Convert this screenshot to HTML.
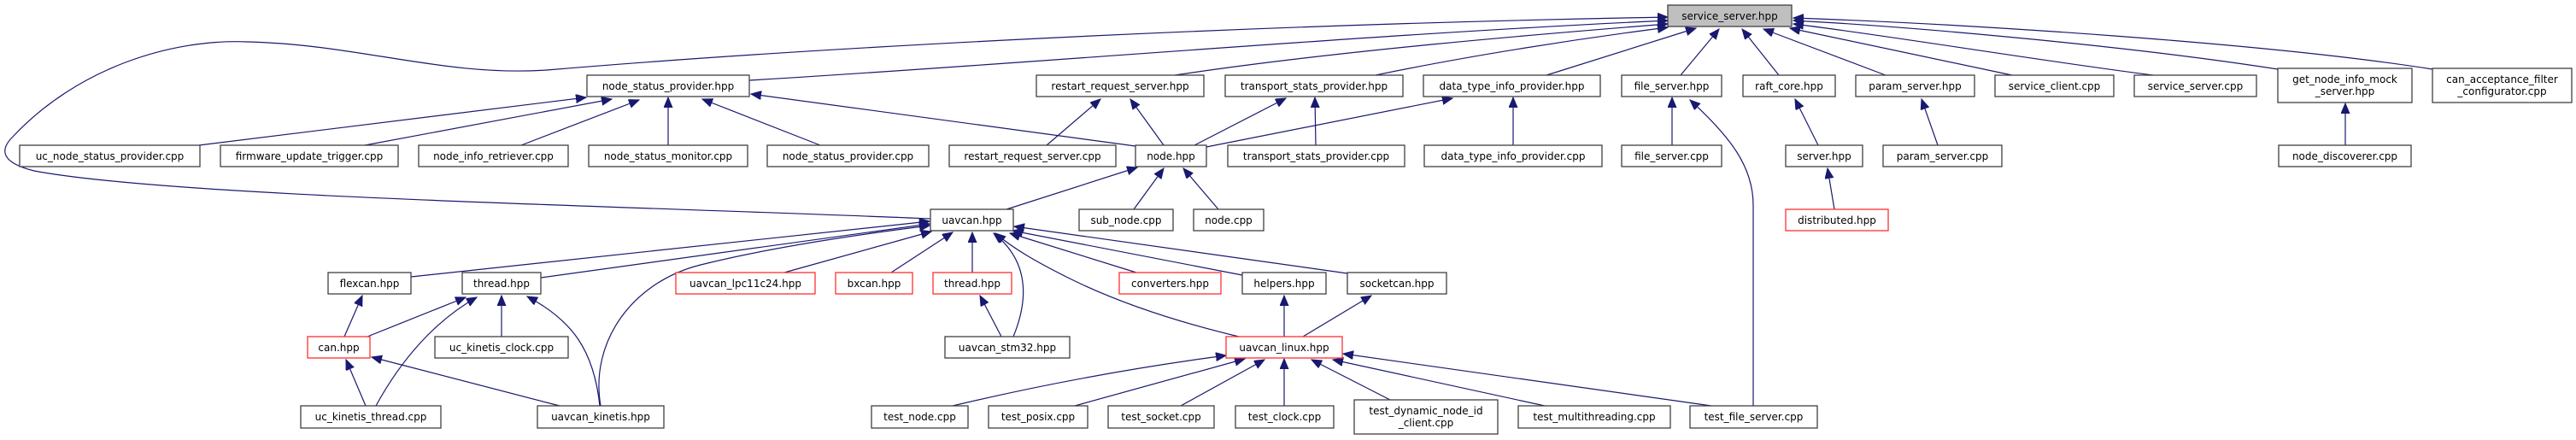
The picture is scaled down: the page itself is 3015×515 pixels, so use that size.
<!DOCTYPE html>
<html><head><meta charset="utf-8"><style>
html,body{margin:0;padding:0;background:#fff;}
svg{display:block;}
text{font-family:"DejaVu Sans","Liberation Sans",sans-serif;font-size:12px;fill:#000;text-anchor:middle;}
.n{fill:#fff;stroke:#404040;stroke-width:1.3;}
.r{fill:#fff;stroke:#ff3030;stroke-width:1.3;}
.e{fill:none;stroke:#191970;stroke-width:1.2;marker-end:url(#a);}
.p{fill:none;stroke:#191970;stroke-width:1.2;}
</style></head><body>
<svg width="3015" height="515" viewBox="0 0 3015 515" xmlns="http://www.w3.org/2000/svg">
<defs><marker id="a" markerUnits="userSpaceOnUse" markerWidth="14" markerHeight="12" refX="12" refY="5" orient="auto"><path d="M0,0 L12,5 L0,10 z" fill="#191970" stroke="#191970"/></marker></defs>

<!-- edges to service_server.hpp -->
<path class="e" d="M1089,256 C700,240 200,230 40,200 C0,190 0,175 15,160 C90,80 200,45 290,49 C420,52 520,90 640,82 C900,60 1400,30 1952,20"/>
<path class="e" d="M877,94 C1200,75 1600,40 1952,24"/>
<path class="e" d="M1375,88 C1560,60 1800,40 1952,28"/>
<path class="e" d="M1610,88 C1720,65 1850,45 1952,32"/>
<path class="e" d="M1810,88 L1985,33"/>
<path class="e" d="M1967,88 L2012,34"/>
<path class="e" d="M2082,88 L2039,34"/>
<path class="e" d="M2207,88 L2064,34"/>
<path class="e" d="M2355,88 L2095,33"/>
<path class="e" d="M2520,88 C2380,70 2200,40 2099,28"/>
<path class="e" d="M2666,81 C2500,55 2250,32 2099,24"/>
<path class="e" d="M2847,81 C2650,50 2300,28 2099,21"/>

<!-- node_status_provider.hpp -->
<path class="e" d="M233,170 L686,114"/>
<path class="e" d="M427,170 L716,116"/>
<path class="e" d="M610,170 L748,117"/>
<path class="e" d="M782,170 L782,114"/>
<path class="e" d="M960,170 L822,116"/>
<path class="e" d="M1329,171 L879,110"/>

<!-- node.hpp targets -->
<path class="e" d="M1225,170 L1288,116"/>
<path class="e" d="M1362,170 L1323,116"/>
<path class="e" d="M1398,170 L1505,115"/>
<path class="e" d="M1412,172 L1700,115"/>
<path class="e" d="M1540,170 L1539,114"/>
<path class="e" d="M1771,170 L1771,114"/>
<path class="e" d="M1957,170 L1957,114"/>
<path class="e" d="M2052,475 L2052,240 C2052,195 2025,160 1978,117"/>
<path class="e" d="M2128,170 L2101,116"/>
<path class="e" d="M2268,170 L2249,116"/>
<path class="e" d="M2147,245 L2139,197"/>
<path class="e" d="M2745,170 L2745,121"/>

<!-- node.hpp children -->
<path class="e" d="M1178,245 L1331,196"/>
<path class="e" d="M1327,245 L1362,197"/>
<path class="e" d="M1426,245 L1385,197"/>

<!-- uavcan.hpp children -->
<path class="e" d="M481,324 L1088,259"/>
<path class="e" d="M633,325 L1088,262"/>
<path class="e" d="M703,475 C690,400 740,330 820,310 C900,290 1000,275 1088,264"/>
<path class="e" d="M918,319 L1090,271"/>
<path class="e" d="M1043,319 L1115,272"/>
<path class="e" d="M1138,319 L1138,272"/>
<path class="e" d="M1186,394 C1200,360 1210,310 1163,273"/>
<path class="e" d="M1450,394 C1350,370 1290,345 1250,325 C1210,305 1185,290 1165,273"/>
<path class="e" d="M1330,319 L1182,273"/>
<path class="e" d="M1454,322 L1185,270"/>
<path class="e" d="M1577,320 L1187,265"/>

<!-- kinetis cluster -->
<path class="e" d="M403,394 L424,346"/>
<path class="e" d="M430,394 L545,348"/>
<path class="e" d="M440,475 C470,420 510,375 558,348"/>
<path class="e" d="M587,394 L587,346"/>
<path class="e" d="M702,475 C695,410 670,375 617,347"/>
<path class="e" d="M655,475 L435,418"/>
<path class="e" d="M428,475 L405,421"/>
<path class="e" d="M1172,394 L1147,346"/>

<!-- linux cluster -->
<path class="e" d="M1503,394 L1503,346"/>
<path class="e" d="M1525,394 L1605,346"/>
<path class="e" d="M1115,475 C1220,450 1330,430 1435,416"/>
<path class="e" d="M1258,475 L1457,420"/>
<path class="e" d="M1382,475 L1480,421"/>
<path class="e" d="M1503,475 L1503,420"/>
<path class="e" d="M1627,468 L1535,421"/>
<path class="e" d="M1808,475 L1560,421"/>
<path class="e" d="M2003,475 L1572,414"/>

<!-- nodes -->
<rect x="1952" y="6" width="145" height="25" fill="#bfbfbf" stroke="#404040" stroke-width="1.3"/><text x="2024.5" y="23">service_server.hpp</text>

<rect class="n" x="687" y="88" width="190" height="25"/><text x="782" y="105">node_status_provider.hpp</text>
<rect class="n" x="1213" y="88" width="196" height="25"/><text x="1311" y="105">restart_request_server.hpp</text>
<rect class="n" x="1434" y="88" width="208" height="25"/><text x="1538" y="105">transport_stats_provider.hpp</text>
<rect class="n" x="1666" y="88" width="207" height="25"/><text x="1769.5" y="105">data_type_info_provider.hpp</text>
<rect class="n" x="1898" y="88" width="117" height="25"/><text x="1956.5" y="105">file_server.hpp</text>
<rect class="n" x="2040" y="88" width="108" height="25"/><text x="2094" y="105">raft_core.hpp</text>
<rect class="n" x="2172" y="88" width="139" height="25"/><text x="2241.5" y="105">param_server.hpp</text>
<rect class="n" x="2335" y="88" width="139" height="25"/><text x="2404.5" y="105">service_client.cpp</text>
<rect class="n" x="2498" y="88" width="143" height="25"/><text x="2569.5" y="105">service_server.cpp</text>
<rect class="n" x="2666" y="80" width="157" height="40"/><text x="2744.5" y="97">get_node_info_mock</text><text x="2744.5" y="111">_server.hpp</text>
<rect class="n" x="2847" y="80" width="163" height="40"/><text x="2928.5" y="97">can_acceptance_filter</text><text x="2928.5" y="111">_configurator.cpp</text>

<rect class="n" x="23" y="170" width="211" height="25"/><text x="128.5" y="187">uc_node_status_provider.cpp</text>
<rect class="n" x="258" y="170" width="208" height="25"/><text x="362" y="187">firmware_update_trigger.cpp</text>
<rect class="n" x="490" y="170" width="175" height="25"/><text x="577.5" y="187">node_info_retriever.cpp</text>
<rect class="n" x="689" y="170" width="186" height="25"/><text x="782" y="187">node_status_monitor.cpp</text>
<rect class="n" x="898" y="170" width="189" height="25"/><text x="992.5" y="187">node_status_provider.cpp</text>
<rect class="n" x="1111" y="170" width="195" height="25"/><text x="1208.5" y="187">restart_request_server.cpp</text>
<rect class="n" x="1329" y="170" width="83" height="25"/><text x="1370.5" y="187">node.hpp</text>
<rect class="n" x="1437" y="170" width="207" height="25"/><text x="1540.5" y="187">transport_stats_provider.cpp</text>
<rect class="n" x="1667" y="170" width="208" height="25"/><text x="1771" y="187">data_type_info_provider.cpp</text>
<rect class="n" x="1898" y="170" width="117" height="25"/><text x="1956.5" y="187">file_server.cpp</text>
<rect class="n" x="2090" y="170" width="90" height="25"/><text x="2135" y="187">server.hpp</text>
<rect class="n" x="2204" y="170" width="139" height="25"/><text x="2273.5" y="187">param_server.cpp</text>
<rect class="n" x="2667" y="170" width="155" height="25"/><text x="2744.5" y="187">node_discoverer.cpp</text>

<rect class="n" x="1089" y="245" width="97" height="25"/><text x="1137.5" y="262">uavcan.hpp</text>
<rect class="n" x="1263" y="245" width="110" height="25"/><text x="1318" y="262">sub_node.cpp</text>
<rect class="n" x="1397" y="245" width="82" height="25"/><text x="1438" y="262">node.cpp</text>
<rect class="r" x="2090" y="245" width="120" height="25"/><text x="2150" y="262">distributed.hpp</text>

<rect class="n" x="384" y="319" width="97" height="25"/><text x="432.5" y="336">flexcan.hpp</text>
<rect class="n" x="541" y="319" width="92" height="25"/><text x="587" y="336">thread.hpp</text>
<rect class="r" x="791" y="319" width="163" height="25"/><text x="872.5" y="336">uavcan_lpc11c24.hpp</text>
<rect class="r" x="978" y="319" width="90" height="25"/><text x="1023" y="336">bxcan.hpp</text>
<rect class="r" x="1092" y="319" width="92" height="25"/><text x="1138" y="336">thread.hpp</text>
<rect class="r" x="1310" y="319" width="119" height="25"/><text x="1369.5" y="336">converters.hpp</text>
<rect class="n" x="1454" y="319" width="98" height="25"/><text x="1503" y="336">helpers.hpp</text>
<rect class="n" x="1577" y="319" width="116" height="25"/><text x="1635" y="336">socketcan.hpp</text>

<rect class="r" x="360" y="394" width="73" height="25"/><text x="396.5" y="411">can.hpp</text>
<rect class="n" x="509" y="394" width="156" height="25"/><text x="587" y="411">uc_kinetis_clock.cpp</text>
<rect class="n" x="1106" y="394" width="146" height="25"/><text x="1179" y="411">uavcan_stm32.hpp</text>
<rect class="r" x="1435" y="394" width="136" height="25"/><text x="1503" y="411">uavcan_linux.hpp</text>

<rect class="n" x="352" y="475" width="164" height="26"/><text x="434" y="492">uc_kinetis_thread.cpp</text>
<rect class="n" x="629" y="475" width="148" height="26"/><text x="703" y="492">uavcan_kinetis.hpp</text>
<rect class="n" x="1020" y="475" width="113" height="26"/><text x="1076.5" y="492">test_node.cpp</text>
<rect class="n" x="1157" y="475" width="116" height="26"/><text x="1215" y="492">test_posix.cpp</text>
<rect class="n" x="1297" y="475" width="124" height="26"/><text x="1359" y="492">test_socket.cpp</text>
<rect class="n" x="1446" y="475" width="115" height="26"/><text x="1503.5" y="492">test_clock.cpp</text>
<rect class="n" x="1585" y="468" width="168" height="40"/><text x="1669" y="485">test_dynamic_node_id</text><text x="1669" y="499">_client.cpp</text>
<rect class="n" x="1777" y="475" width="178" height="26"/><text x="1866" y="492">test_multithreading.cpp</text>
<rect class="n" x="1978" y="475" width="149" height="26"/><text x="2052.5" y="492">test_file_server.cpp</text>
</svg>
</body></html>
